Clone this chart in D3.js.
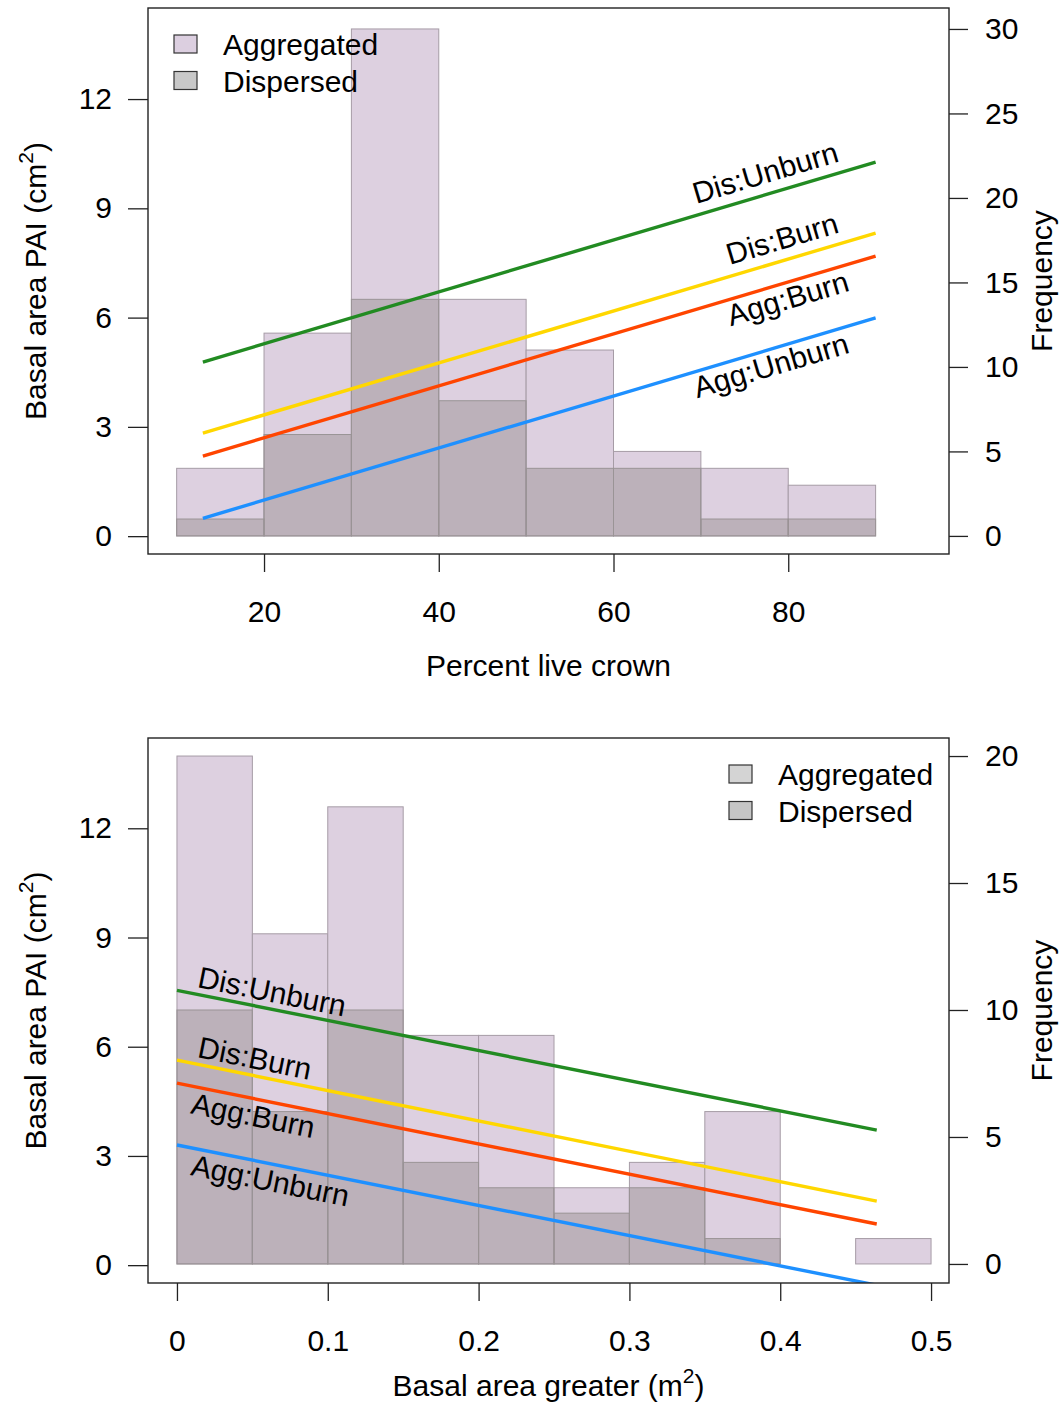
<!DOCTYPE html>
<html>
<head>
<meta charset="utf-8">
<script src="https://cdnjs.cloudflare.com/ajax/libs/d3/7.8.5/d3.min.js"></script>
<style>
  body { margin: 0; background: #fff; }
  svg text { font-family: Arial, "Liberation Sans", sans-serif; fill: #000; }
</style>
</head>
<body>
<div class="chart"></div>
<script>
// Histogram counts (frequency, right axis)
var crownBreaks = [10, 20, 30, 40, 50, 60, 70, 80, 90];
var crownAggregated = [4, 12, 30, 14, 11, 5, 4, 3];
var crownDispersed = [1, 6, 14, 8, 4, 4, 1, 1];

var basalBreaks = [0, 0.05, 0.1, 0.15, 0.2, 0.25, 0.3, 0.35, 0.4, 0.45, 0.5];
var basalAggregated = [20, 13, 18, 9, 9, 3, 4, 6, 0, 1];
var basalDispersed = [10, 6, 10, 4, 3, 2, 3, 1, 0, 0];

// Tick labels
var crownTicks = [20, 40, 60, 80];
var basalTicks = [0, 0.1, 0.2, 0.3, 0.4, 0.5];
var paiTicks = [0, 3, 6, 9, 12];
var crownFreqTicks = [0, 5, 10, 15, 20, 25, 30];
var basalFreqTicks = [0, 5, 10, 15, 20];

// Fitted lines (basal area PAI at both ends, left axis)
var groupNames = ["Dis:Unburn", "Dis:Burn", "Agg:Burn", "Agg:Unburn"];
var groupColors = ["#228b22", "#ffd700", "#ff4500", "#1e90ff"];

var crownLineX = [13, 90];
var crownLineStart = [4.78, 2.83, 2.2, 0.49];
var crownLineEnd = [10.27, 8.32, 7.69, 5.99];

var basalLineX = [0, 0.464];
var basalLineStart = [7.55, 5.63, 5.0, 3.30];
var basalLineEnd = [3.71, 1.76, 1.13, -0.55];

var legendLabels = ["Aggregated", "Dispersed"];

// SVG area
var svgWidth = 1061;
var svgHeight = 1407;
var fontSize = 30;

var svg = d3.select(".chart")
  .append("svg")
  .attr("width", svgWidth)
  .attr("height", svgHeight);

var panels = [
  {
    id: "crown",
    top: 8, bottom: 554, left: 148, right: 949,
    xDomain: [6.72, 98.4],
    paiDomain: [-0.49, 14.5],
    freqDomain: [-1.07, 31.24],
    breaks: crownBreaks, agg: crownAggregated, dis: crownDispersed,
    xTicks: crownTicks, freqTicks: crownFreqTicks,
    lineX: crownLineX, lineStart: crownLineStart, lineEnd: crownLineEnd,
    labelX: 86.3, labelAnchor: "end", disOffset: -11, aggOffset: 26,
    xTitle: ["Percent live crown", null, ""], xTitleY: 676,
    legendX: 174, legendY: 35,
    legendFills: ["#dccfe0", "#c8c8c8"]
  },
  {
    id: "basal",
    top: 738, bottom: 1283, left: 148, right: 949,
    xDomain: [-0.0192, 0.5119],
    paiDomain: [-0.49, 14.48],
    freqDomain: [-0.75, 20.71],
    breaks: basalBreaks, agg: basalAggregated, dis: basalDispersed,
    xTicks: basalTicks, freqTicks: basalFreqTicks,
    lineX: basalLineX, lineStart: basalLineStart, lineEnd: basalLineEnd,
    labelX: 0.012, labelAnchor: "start", disOffset: -7, aggOffset: 27,
    xTitle: ["Basal area greater (m", "2", ")"], xTitleY: 1396,
    legendX: 729, legendY: 765,
    legendFills: ["#d4d4d4", "#c6c6c6"]
  }
];

panels.forEach(drawPanel);

function drawPanel(p) {
  var g = svg.append("g");

  var x = d3.scaleLinear().domain(p.xDomain).range([p.left, p.right]);
  var yPai = d3.scaleLinear().domain(p.paiDomain).range([p.bottom, p.top]);
  var yFreq = d3.scaleLinear().domain(p.freqDomain).range([p.bottom, p.top]);

  g.append("clipPath")
    .attr("id", "clip-" + p.id)
    .append("rect")
    .attr("x", p.left)
    .attr("y", p.top)
    .attr("width", p.right - p.left)
    .attr("height", p.bottom - p.top);

  var plot = g.append("g").attr("clip-path", "url(#clip-" + p.id + ")");

  // histogram bins from the break points
  function bins(counts) {
    return counts.map(function (n, i) {
      return { x0: p.breaks[i], x1: p.breaks[i + 1], n: n };
    });
  }

  plot.selectAll(".agg")
    .data(bins(p.agg))
    .enter()
    .append("rect")
    .attr("class", "agg")
    .attr("x", d => x(d.x0))
    .attr("width", d => x(d.x1) - x(d.x0))
    .attr("y", d => yFreq(d.n))
    .attr("height", d => yFreq(0) - yFreq(d.n))
    .attr("fill", "#ddd0e0")
    .attr("stroke", "#a69ca6")
    .attr("stroke-width", 1);

  plot.selectAll(".dis")
    .data(bins(p.dis))
    .enter()
    .append("rect")
    .attr("class", "dis")
    .attr("x", d => x(d.x0))
    .attr("width", d => x(d.x1) - x(d.x0))
    .attr("y", d => yFreq(d.n))
    .attr("height", d => yFreq(0) - yFreq(d.n))
    .attr("fill", "rgba(140,130,130,0.4)")
    .attr("stroke", "#9a9496")
    .attr("stroke-width", 1);

  // regression lines
  var lines = groupNames.map(function (name, i) {
    return {
      name: name,
      color: groupColors[i],
      pts: [[p.lineX[0], p.lineStart[i]], [p.lineX[1], p.lineEnd[i]]]
    };
  });

  var lineGen = d3.line()
    .x(d => x(d[0]))
    .y(d => yPai(d[1]));

  plot.selectAll(".fit")
    .data(lines)
    .enter()
    .append("path")
    .attr("class", "fit")
    .attr("d", d => lineGen(d.pts))
    .attr("fill", "none")
    .attr("stroke", d => d.color)
    .attr("stroke-width", 3.4);

  // labels along the lines
  g.selectAll(".fitLabel")
    .data(lines)
    .enter()
    .append("text")
    .attr("class", "fitLabel")
    .attr("transform", function (d) {
      var x0 = x(d.pts[0][0]), y0 = yPai(d.pts[0][1]);
      var x1 = x(d.pts[1][0]), y1 = yPai(d.pts[1][1]);
      var t = (p.labelX - d.pts[0][0]) / (d.pts[1][0] - d.pts[0][0]);
      var lx = x(p.labelX);
      var ly = y0 + t * (y1 - y0);
      var angle = Math.atan2(y1 - y0, x1 - x0) * 180 / Math.PI;
      return `translate(${lx},${ly}) rotate(${angle})`;
    })
    .attr("y", d => d.name.indexOf("Dis") === 0 ? p.disOffset : p.aggOffset)
    .attr("text-anchor", p.labelAnchor)
    .style("font-size", fontSize + "px")
    .text(d => d.name);

  // box
  g.append("rect")
    .attr("x", p.left)
    .attr("y", p.top)
    .attr("width", p.right - p.left)
    .attr("height", p.bottom - p.top)
    .attr("fill", "none")
    .attr("stroke", "#222")
    .attr("stroke-width", 1.4);

  // axes
  var leftAxis = d3.axisLeft(yPai).tickValues(paiTicks).tickSize(20).tickPadding(16);
  var rightAxis = d3.axisRight(yFreq).tickValues(p.freqTicks).tickSize(19).tickPadding(17);
  var bottomAxis = d3.axisBottom(x).tickValues(p.xTicks).tickSize(18).tickPadding(29)
    .tickFormat(d3.format("~g"));

  var axes = [
    g.append("g").attr("transform", `translate(${p.left},0)`).call(leftAxis),
    g.append("g").attr("transform", `translate(${p.right},0)`).call(rightAxis),
    g.append("g").attr("transform", `translate(0,${p.bottom})`).call(bottomAxis)
  ];
  axes.forEach(function (a) {
    a.attr("font-size", fontSize).attr("font-family", null);
    a.select(".domain").remove();
    a.selectAll(".tick line").attr("stroke", "#222").attr("stroke-width", 1.3);
  });

  // axis titles
  var midX = (p.left + p.right) / 2;
  var midY = (p.top + p.bottom) / 2;

  var xt = g.append("text")
    .attr("x", midX)
    .attr("y", p.xTitleY)
    .attr("text-anchor", "middle")
    .style("font-size", fontSize + "px");
  xt.append("tspan").text(p.xTitle[0]);
  if (p.xTitle[1]) {
    xt.append("tspan").attr("dy", -13).style("font-size", "21px").text(p.xTitle[1]);
    xt.append("tspan").attr("dy", 13).text(p.xTitle[2]);
  }

  var yt = g.append("text")
    .attr("transform", `translate(46,${midY}) rotate(-90)`)
    .attr("text-anchor", "middle")
    .style("font-size", fontSize + "px");
  yt.append("tspan").text("Basal area PAI (cm");
  yt.append("tspan").attr("dy", -13).style("font-size", "21px").text("2");
  yt.append("tspan").attr("dy", 13).text(")");

  g.append("text")
    .attr("transform", `translate(1052,${midY}) rotate(-90)`)
    .attr("text-anchor", "middle")
    .style("font-size", fontSize + "px")
    .text("Frequency");

  // legend
  var legend = g.selectAll(".legend")
    .data(legendLabels)
    .enter()
    .append("g")
    .attr("class", "legend")
    .attr("transform", (d, i) => `translate(${p.legendX},${p.legendY + i * 36.5})`);

  legend.append("rect")
    .attr("width", 23)
    .attr("height", 18)
    .attr("fill", (d, i) => p.legendFills[i])
    .attr("stroke", "#333")
    .attr("stroke-width", 1.2);

  legend.append("text")
    .attr("x", 49)
    .attr("y", 20)
    .style("font-size", fontSize + "px")
    .text(d => d);
}
</script>
</body>
</html>
